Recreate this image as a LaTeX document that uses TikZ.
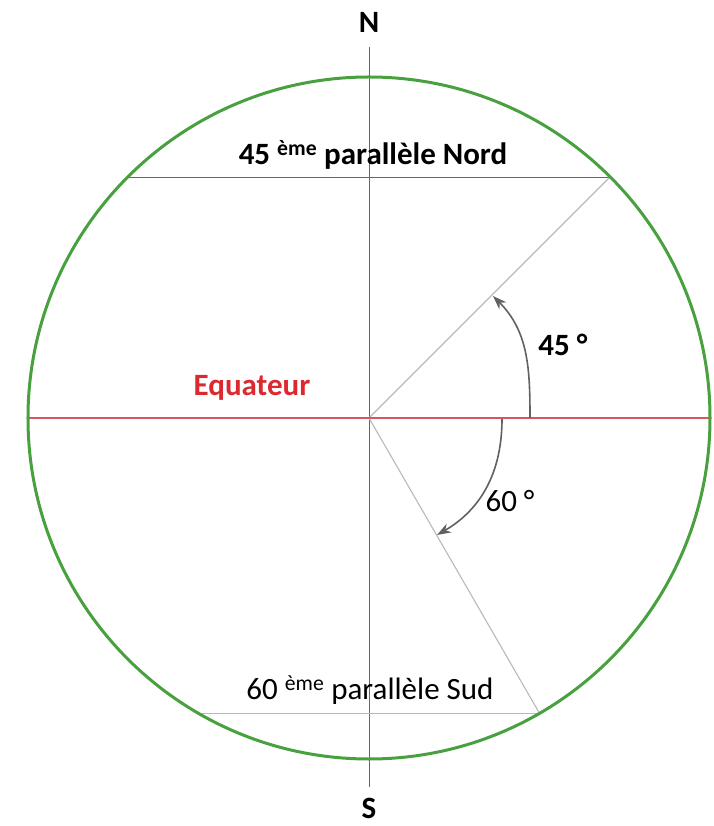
\documentclass[tikz,border=0pt]{standalone}
\usepackage{fontspec}
\setmainfont{Carlito}
\usepackage{xcolor}
\usepackage{tikz}
\usetikzlibrary{arrows.meta, positioning}

\definecolor{globegreen}{RGB}{72,160,62}
\definecolor{eqred}{RGB}{222,40,48}
\definecolor{eqline}{RGB}{212,88,94}

\begin{document}
\begin{tikzpicture}[
        x=1pt, y=1pt,
        guide/.style={draw=gray!80!black, line width=0.9pt},
        faint/.style={draw=gray!55, line width=1.1pt},
        anglearrow/.style={draw=black!62, line width=1.6pt, -{Stealth[length=14pt, width=10pt]}},
        lbl/.style={font=\fontsize{31}{36}\selectfont, inner sep=1pt},
        boldlbl/.style={lbl, font=\fontsize{31}{36}\selectfont\bfseries}
    ]
        \useasboundingbox (-369,-408) rectangle (344,418);

        % Axis and parallels
        \coordinate (ntop) at (0,371);
        \coordinate (sbot) at (0,-369);
        \coordinate (eqw) at (-341,0);
        \coordinate (eqe) at (341,0);
        \coordinate (center) at (0,0);
        \coordinate (p45w) at (-241,241);
        \coordinate (p45e) at (241,241);
        \coordinate (p60w) at (-170.5,-295.3);
        \coordinate (p60e) at (170.5,-295.3);

        \draw [guide] (ntop) -- (sbot);
        \draw [guide] (p45w) -- (p45e);
        \draw [faint] (p60w) -- (p60e);
        \draw [faint] (center) -- (p45e);
        \draw [faint] (center) -- (p60e);
        \draw [draw=eqline, line width=1.6pt] (eqw) -- (eqe);

        % Globe
        \draw [globegreen, line width=3pt] (center) circle (341);

        % Angles
        \coordinate (a45s) at (161,0);
        \coordinate (a45e) at (124,122);
        \coordinate (a60s) at (133,-1);
        \coordinate (a60e) at (68,-117);
        \draw [anglearrow] (a45s) to[out=90, in=-45] (a45e);
        \draw [anglearrow] (a60s) to[out=-90, in=30] (a60e);

        % Labels
        \node (north) [boldlbl] at (0,396) {N};
        \node (south) [boldlbl, inner sep=0pt] at (0,-390) {S};
        \node (nord) [boldlbl] at (4,263) {45 \textsuperscript{ème} parallèle Nord};
        \node (sud) [lbl] at (1,-272) {60 \textsuperscript{ème} parallèle Sud};
        \node (equateur) [boldlbl, text=eqred] at (-117,30) {Equateur};
        \node (deg45) [boldlbl] at (194,73) {45 °};
        \node (deg60) [lbl] at (141,-83) {60 °};
    \end{tikzpicture}
\end{document}
